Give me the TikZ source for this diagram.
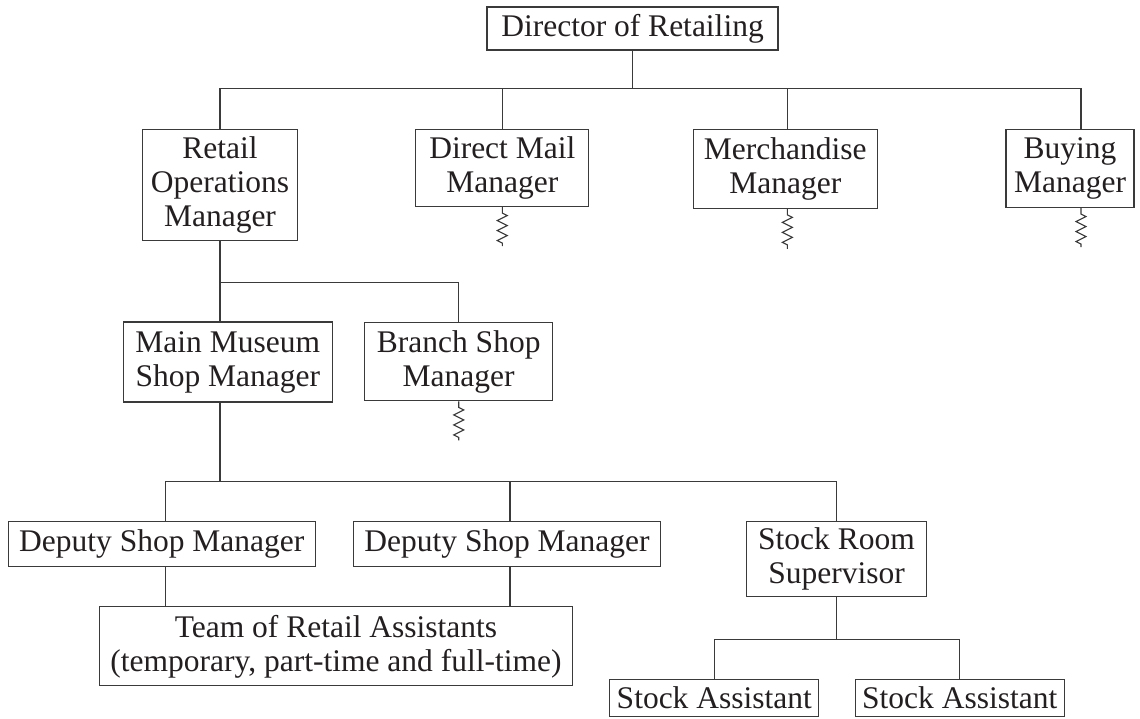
\documentclass[tikz,border=0pt]{standalone}
\usepackage{fontspec}
\setmainfont{Liberation Serif}
\usepackage{tikz}
\usetikzlibrary{decorations.pathmorphing}
\definecolor{ink}{HTML}{231F20}
\definecolor{rule}{HTML}{3A3A3A}

\begin{document}
\begin{tikzpicture}[x=1pt,y=-1pt,
  box/.style={draw=rule,line width=1.1pt,inner sep=0pt,align=center,text=ink,font=\fontsize{31.5}{34}\selectfont},
  ln/.style={draw=rule,line width=1.1pt},
  spring/.style={ln,decorate,decoration={zigzag,segment length=10pt,amplitude=5pt,pre length=6pt,post length=1pt}}]
\useasboundingbox (0,0) rectangle (1140,718);
% top level
\node[box,minimum width=291pt,minimum height=43pt] (dir) at (632.5,28.5) {Director of Retailing};
\node[box,minimum width=155pt,minimum height=111pt] (rom) at (220,184.7) {Retail\\Operations\\Manager};
\node[box,minimum width=173pt,minimum height=77pt] (dmm) at (502.3,168) {Direct Mail\\Manager};
\node[box,minimum width=184pt,minimum height=79pt] (mm) at (785.3,168.8) {Merchandise\\Manager};
\node[box,minimum width=128pt,minimum height=78pt] (bm) at (1070,168.5) {Buying\\Manager};
% shops
\node[box,minimum width=209pt,minimum height=80pt] (mms) at (227.8,362) {Main Museum\\Shop Manager};
\node[box,minimum width=188pt,minimum height=78pt] (bsm) at (458.7,361.9) {Branch Shop\\Manager};
% main shop staff
\node[box,minimum width=307pt,minimum height=45pt] (dsm1) at (161.8,543.7) {Deputy Shop Manager};
\node[box,minimum width=307pt,minimum height=45pt] (dsm2) at (507,543.7) {Deputy Shop Manager};
\node[box,minimum width=180pt,minimum height=75pt] (srs) at (836.5,559.4) {Stock Room\\Supervisor};
\node[box,minimum width=473pt,minimum height=79pt] (tra) at (336,646.4) {Team of Retail Assistants\\(temporary, part-time and full-time)};
\node[box,minimum width=209pt,minimum height=37pt] (sa1) at (714.3,698) {Stock Assistant};
\node[box,minimum width=209pt,minimum height=37pt] (sa2) at (959.7,698) {Stock Assistant};

% connectors
\draw[ln] (dir.south) -- ++(0,38) coordinate (bus1);
\draw[ln] (rom.north) |- (bus1) -| ([xshift=11pt]bm.north);
\draw[ln] (dmm.north) -- (dmm.north |- bus1);
\draw[ln] ([xshift=2pt]mm.north) -- ([xshift=2pt]mm.north |- bus1);
\coordinate (bus2) at ([yshift=-41.7pt]rom.south);
\draw[ln] (rom.south) -- (rom.south |- mms.north);
\draw[ln] (bus2) -| (bsm.north);
\draw[ln] (rom.south |- mms.south) -- ++(0,78.7) coordinate (bus3);
\draw[ln] ([xshift=4pt]dsm1.north) |- (bus3) -| (srs.north);
\draw[ln] ([xshift=3pt]dsm2.north) -- ([xshift=3pt]dsm2.north |- bus3);
\draw[ln] ([xshift=4pt]dsm1.south) -- ([xshift=4pt]dsm1.south |- tra.north);
\draw[ln] ([xshift=3pt]dsm2.south) -- ([xshift=3pt]dsm2.south |- tra.north);
\draw[ln] (srs.south) -- ++(0,42) coordinate (bus4);
\draw[ln] (sa1.north) |- (bus4) -| (sa2.north);
% zigzag lines
\draw[spring] (dmm.south) -- ([yshift=-39pt]dmm.south);
\draw[spring] ([xshift=2pt]mm.south) -- ([xshift=2pt,yshift=-40pt]mm.south);
\draw[spring] ([xshift=11pt]bm.south) -- ([xshift=11pt,yshift=-39pt]bm.south);
\draw[spring] (bsm.south) -- ([yshift=-39pt]bsm.south);
\end{tikzpicture}
\end{document}
